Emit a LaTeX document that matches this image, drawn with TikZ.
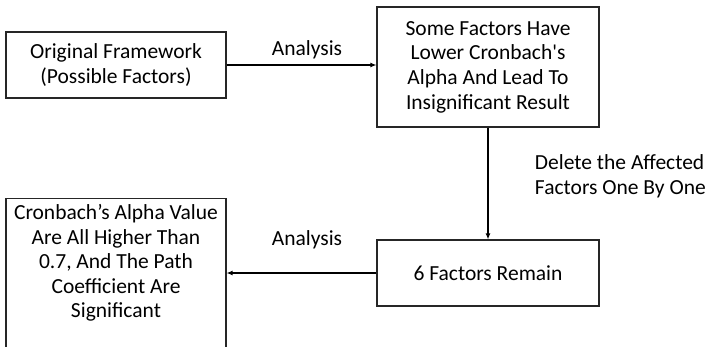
\documentclass[tikz,border=0pt]{standalone}
\usepackage{fontspec}
\setmainfont{Carlito}
\usetikzlibrary{arrows.meta}

\begin{document}
\begin{tikzpicture}[x=1pt,y=-1pt,
  box/.style={rectangle,draw=black!85,line width=1.1pt,align=center,inner sep=0pt,
    font=\fontsize{21.5}{24.6}\selectfont},
  lbl/.style={font=\fontsize{21.5}{24.6}\selectfont,inner sep=0pt},
  arr/.style={line width=1.2pt,-{Latex[length=6pt,width=5pt]}}]

\useasboundingbox (0,0) rectangle (708,346);
\clip (0,0) rectangle (708,346);

\node[box,minimum width=220pt,minimum height=66pt] (orig) at (116,65) {Original Framework\\(Possible Factors)};
\node[box,minimum width=222pt,minimum height=120pt] (lower) at (488,67) {Some Factors Have\\Lower Cronbach\textquotesingle s\\Alpha And Lead To\\Insignificant Result};
\node[box,minimum width=222pt,minimum height=66pt] (remain) at (488,273) {6 Factors Remain};
\node[box,minimum width=220pt,minimum height=170pt,anchor=north] (final) at (116,198) {};
\node[lbl,align=center] (finaltext) at (116,263) {Cronbach’s Alpha Value\\Are All Higher Than\\0.7, And The Path\\Coefficient Are\\Significant};

\node[lbl] (ana1) at (307,50) {Analysis};
\node[lbl] (ana2) at (307,240) {Analysis};
\node[lbl,align=left,anchor=east] (delete) at (706,176) {Delete the Affected\\Factors One By One};

\draw[arr] (orig.east) -- (orig.east -| lower.west);
\draw[arr] (lower.south) -- (remain.north);
\draw[arr] (remain.west) -- (remain.west -| final.east);

\end{tikzpicture}
\end{document}
